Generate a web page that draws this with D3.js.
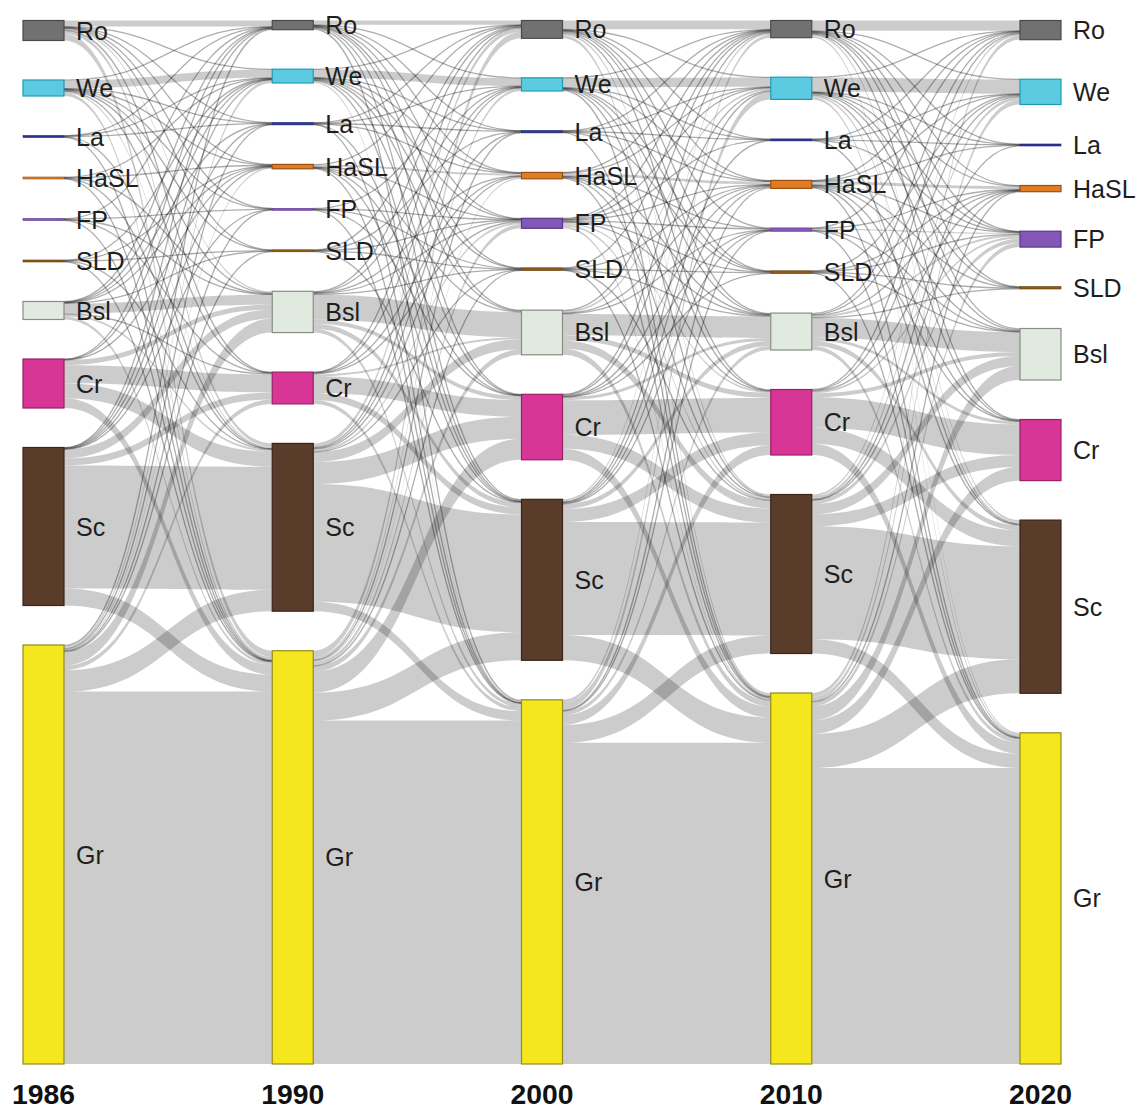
<!DOCTYPE html>
<html><head><meta charset="utf-8">
<script src="https://cdn.jsdelivr.net/npm/d3@7"></script>
<style>body{margin:0;background:#fff} svg{display:block}</style>
</head><body>
<svg id="chart" width="1139" height="1110"></svg>
<script>
// ---------- data ----------
const years = ["1986", "1990", "2000", "2010", "2020"];
const classes = ["Ro", "We", "La", "HaSL", "FP", "SLD", "Bsl", "Cr", "Sc", "Gr"];
const classColors = ["#717171", "#5ccbe1", "#2c3596", "#e07d24", "#8257b5", "#8c5a16", "#e1eadf", "#d83696", "#5a3c2b", "#f5e71d"];
const classStrokes = ["#4a4a4a", "#1d9bb0", "#1c2370", "#9a4f10", "#5a3590", "#5e3a08", "#878d85", "#9a1e66", "#3a2418", "#948a1c"];

// flow matrices: rows = class in earlier year, columns = class in later year
const flows_1986_1990 = [
  [6, 0.4, 0.4, 0.4, 0.4, 0.4, 1.5, 0.5, 3.5, 6.5],
  [0.4, 8, 0.4, 0.4, 0.4, 0.4, 1, 0.4, 1.6, 3],
  [0.4, 0.4, 0.4, 0, 0, 0, 0, 0, 0.4, 0.4],
  [0, 0.4, 0, 0.4, 0, 0, 0.4, 0, 0.4, 0.4],
  [0.4, 0, 0, 0, 0.4, 0, 0.4, 0.4, 0, 0.4],
  [0, 0.4, 0, 0.4, 0, 0.4, 0, 0, 0.4, 0.4],
  [0.4, 0.4, 0.4, 0.4, 0, 0.4, 10, 1, 2, 3],
  [0.4, 0.4, 0, 0.4, 0, 0, 5, 18, 15, 9.8],
  [0.4, 0.4, 0.4, 0.4, 0.4, 0, 9, 7, 123, 17],
  [0.8, 3, 0.4, 1.6, 0.4, 0.4, 14, 4.5, 21.5, 372.4]
];
const flows_1990_2000 = [
  [4.2, 0.4, 0.4, 0.4, 0.4, 0.4, 0.5, 0.5, 1, 1],
  [0.4, 7.8, 0.4, 0.4, 0.4, 0.4, 1, 0.4, 1, 1.6],
  [0.4, 0.4, 0.4, 0.4, 0, 0, 0, 0, 0.4, 0.4],
  [0.4, 0, 0, 2.0, 0.4, 0, 0.4, 0.4, 0.4, 0.4],
  [0, 0.4, 0, 0, 0.4, 0.4, 0, 0.4, 0, 0.4],
  [0.4, 0, 0.4, 0, 0.4, 0.4, 0, 0, 0.4, 0],
  [1, 0.4, 0, 0.4, 1, 0.4, 25.3, 4, 5, 3.8],
  [0.4, 0.4, 0, 0.4, 1, 0, 2, 16.8, 7, 3.8],
  [4, 0.8, 0.4, 1, 2, 0.4, 10, 22, 117.8, 9.4],
  [6.6, 2.6, 0.4, 1.4, 4, 0.4, 5.5, 21, 28, 343.4]
];
const flows_2000_2010 = [
  [8.8, 0.4, 0.4, 0.4, 0.4, 0.4, 1, 1, 2, 3],
  [0.4, 9.2, 0.4, 0.4, 0, 0.4, 0.4, 0.4, 0.8, 0.8],
  [0.4, 0.4, 0.4, 0.4, 0, 0.4, 0, 0, 0, 0.4],
  [0.4, 0.4, 0, 2.8, 0.4, 0, 0.4, 0.4, 0.8, 0.8],
  [0.4, 0.8, 0.4, 0.4, 1, 0.4, 1, 1.6, 2, 2],
  [0.4, 0, 0, 0.4, 0, 0.8, 0.4, 0, 0.4, 0.4],
  [1, 2, 0, 0.4, 0.4, 0, 21.7, 5, 8, 6.2],
  [0.4, 1, 0, 0.8, 0.4, 0.4, 3, 34.5, 14, 11],
  [2, 1, 0.4, 1, 0.4, 0, 5, 13, 113, 25.2],
  [3, 7, 0, 1, 0.4, 0, 4, 9.6, 18, 321.2]
];
const flows_2010_2020 = [
  [10.2, 0.4, 0.4, 0.4, 0.4, 0.4, 1, 0.4, 2, 1.6],
  [0.4, 14.2, 0.4, 0.4, 0.4, 0.4, 1, 0.8, 2, 2.2],
  [0.4, 0.4, 0.4, 0, 0.4, 0, 0, 0, 0.4, 0],
  [0.4, 0.4, 0.4, 3, 0.4, 0.4, 0.8, 0.4, 0.8, 1],
  [0.4, 0, 0, 0.4, 1.4, 0, 0.4, 0.4, 0, 0.4],
  [0, 0.4, 0, 0.4, 0.4, 0.8, 0.4, 0, 0, 0.4],
  [1, 1, 0, 0.4, 2, 0.4, 19.9, 3, 5, 4.2],
  [0.4, 1, 0, 0.4, 2, 0, 4, 30.5, 16, 11.2],
  [2, 3, 0.4, 0.4, 4, 0, 10, 12, 113, 14.2],
  [4, 4.5, 0, 0.4, 4.5, 0, 14, 13.6, 34, 296]
];
const transitions = [flows_1986_1990, flows_1990_2000, flows_2000_2010, flows_2010_2020];

// ---------- layout ----------
const nodeWidth = 41, nodePad = 39.5, yTop = 20.5, yBottom = 1064;
const svg = d3.select("#chart");
const x = d3.scalePoint().domain(years).range([23, 1020]);

const nodeVals = years.map((yr, ci) => classes.map((c, k) => {
  const out = ci < transitions.length ? d3.sum(transitions[ci][k]) : 0;
  const inn = ci > 0 ? d3.sum(transitions[ci - 1], row => row[k]) : 0;
  return Math.max(out, inn);
}));
const maxTotal = d3.max(nodeVals, col => d3.sum(col));
const h = d3.scaleLinear().domain([0, maxTotal])
  .range([0, yBottom - yTop - nodePad * (classes.length - 1)]);

const nodes = years.map((yr, ci) => {
  let y = yTop;
  return classes.map((c, k) => {
    const n = {year: yr, ci, k, name: c, value: nodeVals[ci][k],
      x0: x(yr), x1: x(yr) + nodeWidth, y0: y};
    n.y1 = y + h(n.value);
    y = n.y1 + nodePad;
    n.sy = n.y0; n.ty = n.y0;
    return n;
  });
});

const links = [];
transitions.forEach((m, t) => {
  m.forEach((row, i) => row.forEach((v, j) => {
    if (v <= 0) return;
    const s = nodes[t][i], tg = nodes[t + 1][j];
    const w = h(v);
    links.push({s, tg, v, w, i, j, t, sy: s.sy});
    s.sy += w;
  }));
});
transitions.forEach((m, t) => {
  classes.forEach((c, j) => {
    links.filter(l => l.t === t && l.j === j).sort((a, b) => a.i - b.i)
      .forEach(l => { l.ty = l.tg.ty; l.tg.ty += l.w; });
  });
});

const band = l => {
  const x0 = l.s.x1, x1 = l.tg.x0, xm = (x0 + x1) / 2;
  const p = d3.path();
  p.moveTo(x0, l.sy);
  p.bezierCurveTo(xm, l.sy, xm, l.ty, x1, l.ty);
  p.lineTo(x1, l.ty + l.w);
  p.bezierCurveTo(xm, l.ty + l.w, xm, l.sy + l.w, x0, l.sy + l.w);
  p.closePath();
  return p.toString();
};
const line = d3.linkHorizontal().x(d => d[0]).y(d => d[1]);

const thin = 1.2;
svg.append("g").selectAll("path").data(links.filter(l => l.w >= thin)).join("path")
  .attr("d", band).attr("fill", "rgba(0,0,0,0.2)");
svg.append("g").selectAll("path").data(links.filter(l => l.w < thin)).join("path")
  .attr("d", l => line({source: [l.s.x1, l.sy + l.w / 2], target: [l.tg.x0, l.ty + l.w / 2]}))
  .attr("fill", "none").attr("stroke", "rgba(0,0,0,0.32)").attr("stroke-width", 1.3);

const allNodes = nodes.flat();
svg.append("g").selectAll("rect").data(allNodes).join("rect")
  .attr("x", d => d.x0).attr("y", d => d.y0)
  .attr("width", nodeWidth).attr("height", d => Math.max(1, d.y1 - d.y0))
  .attr("fill", d => classColors[d.k])
  .attr("stroke", d => classStrokes[d.k])
  .attr("stroke-width", d => (d.y1 - d.y0) > 4 ? 1.2 : 0.6);

svg.append("g").selectAll("text").data(allNodes).join("text")
  .attr("x", d => d.x1 + 12).attr("y", d => (d.y0 + d.y1) / 2)
  .attr("dominant-baseline", "central")
  .attr("font-family", "'Liberation Sans', Arial, sans-serif")
  .attr("font-size", 25).attr("fill", "#1e1e1e")
  .text(d => d.name);

svg.append("g").selectAll("text").data(years).join("text")
  .attr("x", d => x(d) + nodeWidth / 2).attr("y", 1104)
  .attr("text-anchor", "middle")
  .attr("font-family", "'Liberation Sans', Arial, sans-serif")
  .attr("font-weight", "bold").attr("font-size", 28)
  .attr("textLength", 63).attr("lengthAdjust", "spacingAndGlyphs")
  .attr("fill", "#111")
  .text(d => d);
</script>
</body></html>
